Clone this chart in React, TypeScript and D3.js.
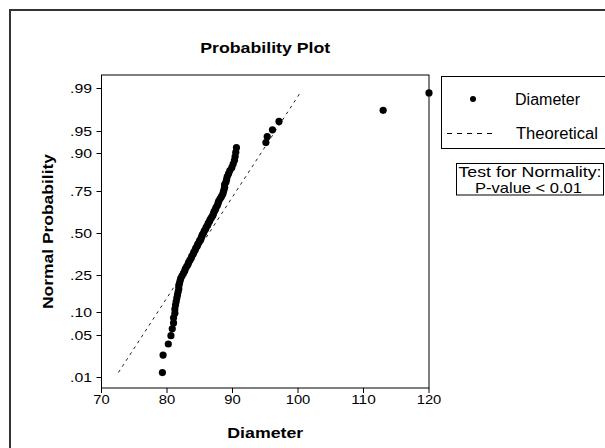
import React from 'react';
import * as d3 from 'd3';

// Sorted diameters (n = 81)
const diameters = [
  79.3, 79.4, 80.2, 80.6, 80.8, 81.0, 81.0, 81.2, 81.2, 81.3,
  81.4, 81.5, 81.6, 81.7, 81.8, 81.8, 81.9, 82.0, 82.1, 82.3,
  82.5, 82.7, 82.8, 83.0, 83.2, 83.3, 83.5, 83.7, 83.8, 84.0,
  84.1, 84.3, 84.4, 84.6, 84.7, 84.9, 85.0, 85.2, 85.3, 85.4,
  85.6, 85.7, 85.9, 86.0, 86.2, 86.3, 86.5, 86.6, 86.8, 87.0,
  87.1, 87.2, 87.4, 87.5, 87.7, 87.8, 87.9, 88.1, 88.3, 88.5,
  88.6, 88.7, 88.8, 88.8, 89.0, 89.1, 89.2, 89.4, 89.6, 89.9,
  90.1, 90.3, 90.4, 90.5, 90.6, 95.1, 95.3, 96.1, 97.1, 113.0,
  120.0,
];

const probTicks = [0.01, 0.05, 0.1, 0.25, 0.5, 0.75, 0.9, 0.95, 0.99];
const probTickLabels = ['.01', '.05', '.10', '.25', '.50', '.75', '.90', '.95', '.99'];
const xTicks = [70, 80, 90, 100, 110, 120];
const xDomain = [70, 120];
const zDomain = [-2.5, 2.54];

// Theoretical normal line
const theoMean = 86.45;
const theoSd = 6.16;
const theoProbRange = [0.0122, 0.9878];

const legendLabels = ['Diameter', 'Theoretical'];
const testLines = ['Test for Normality:', 'P-value < 0.01'];

function normInv(p: number): number {
  const a = [-3.969683028665376e1, 2.209460984245205e2, -2.759285104469687e2, 1.38357751867269e2, -3.066479806614716e1, 2.506628277459239];
  const b = [-5.447609879822406e1, 1.615858368580409e2, -1.556989798598866e2, 6.680131188771972e1, -1.328068155288572e1];
  const c = [-7.784894002430293e-3, -3.223964580411365e-1, -2.400758277161838, -2.549732539343734, 4.374664141464968, 2.938163982698783];
  const d = [7.784695709041462e-3, 3.224671290700398e-1, 2.445134137142996, 3.754408661907416];
  const plow = 0.02425;
  if (p < plow) {
    const q = Math.sqrt(-2 * Math.log(p));
    return (((((c[0] * q + c[1]) * q + c[2]) * q + c[3]) * q + c[4]) * q + c[5]) /
      ((((d[0] * q + d[1]) * q + d[2]) * q + d[3]) * q + 1);
  }
  if (p <= 1 - plow) {
    const q = p - 0.5;
    const r = q * q;
    return ((((((a[0] * r + a[1]) * r + a[2]) * r + a[3]) * r + a[4]) * r + a[5]) * q) /
      (((((b[0] * r + b[1]) * r + b[2]) * r + b[3]) * r + b[4]) * r + 1);
  }
  const q = Math.sqrt(-2 * Math.log(1 - p));
  return -(((((c[0] * q + c[1]) * q + c[2]) * q + c[3]) * q + c[4]) * q + c[5]) /
    ((((d[0] * q + d[1]) * q + d[2]) * q + d[3]) * q + 1);
}

const W = 605;
const H = 448;
const plot = { left: 101.5, right: 429, top: 75, bottom: 388 };
const FONT = 'Arial, "Liberation Sans", sans-serif';

export default function App() {
  const x = d3.scaleLinear().domain(xDomain).range([plot.left, plot.right]);
  const y = d3.scaleLinear().domain(zDomain).range([plot.bottom, plot.top]);
  const n = diameters.length;
  const pts = diameters.map((v, i) => ({ v, z: normInv((i + 1) / (n + 1)) }));

  const z0 = normInv(theoProbRange[0]);
  const z1 = normInv(theoProbRange[1]);
  const line = d3.line<[number, number]>().x(d => x(d[0])).y(d => y(d[1]));
  const theoPath = line([
    [theoMean + z0 * theoSd, z0],
    [theoMean + z1 * theoSd, z1],
  ]) as string;

  const cx = (plot.left + plot.right) / 2;
  const cy = (plot.top + plot.bottom) / 2;

  return (
    <svg width={W} height={H} style={{ position: 'absolute', left: 0, top: 0, background: '#fff' }} fontFamily={FONT}>
      <rect x={0} y={0} width={W} height={H} fill="#fff" />
      {/* outer frame */}
      <rect x={10} y={10} width={W + 20} height={H + 20} fill="none" stroke="#333" strokeWidth={2} />

      <text x={cx} y={53} textAnchor="middle" fontWeight="bold" fontSize={15} textLength={130} lengthAdjust="spacingAndGlyphs">Probability Plot</text>

      {/* plot frame */}
      <rect x={plot.left} y={plot.top} width={plot.right - plot.left} height={plot.bottom - plot.top} fill="none" stroke="#000" strokeWidth={1} />

      {/* y ticks */}
      {probTicks.map((p, i) => {
        const yy = Math.round(y(normInv(p))) + 0.5;
        return (
          <g key={'yt' + i}>
            <line x1={plot.left - 5} x2={plot.left} y1={yy} y2={yy} stroke="#000" />
            <text x={92} y={yy + 4.5} textAnchor="end" fontSize={13} textLength={22} lengthAdjust="spacingAndGlyphs">{probTickLabels[i]}</text>
          </g>
        );
      })}

      {/* x ticks */}
      {xTicks.map((t, i) => {
        const xx = x(t);
        const s = String(t);
        return (
          <g key={'xt' + i}>
            <line x1={xx} x2={xx} y1={plot.bottom} y2={plot.bottom + 5} stroke="#000" />
            <text x={xx} y={404} textAnchor="middle" fontSize={13} textLength={s.length * 8.2} lengthAdjust="spacingAndGlyphs">{s}</text>
          </g>
        );
      })}

      <text x={cx} y={438} textAnchor="middle" fontWeight="bold" fontSize={14} textLength={76} lengthAdjust="spacingAndGlyphs">Diameter</text>
      <text transform={`translate(53,${cy}) rotate(-90)`} textAnchor="middle" fontWeight="bold" fontSize={14} textLength={155} lengthAdjust="spacingAndGlyphs">Normal Probability</text>

      {/* theoretical line */}
      <path d={theoPath} fill="none" stroke="#222" strokeWidth={1} strokeDasharray="3,4" />

      {/* points */}
      {pts.map((d, i) => (
        <circle key={'p' + i} cx={x(d.v)} cy={y(d.z)} r={3.6} fill="#000" />
      ))}

      {/* legend */}
      <rect x={441.5} y={76.5} width={200} height={72} fill="#fff" stroke="#000" />
      <circle cx={473} cy={99} r={3} fill="#000" />
      <text x={515} y={104.5} fontSize={16} textLength={65} lengthAdjust="spacingAndGlyphs">{legendLabels[0]}</text>
      <line x1={447} x2={495} y1={133.5} y2={133.5} stroke="#000" strokeDasharray="5,5" />
      <text x={516} y={138.5} fontSize={16} textLength={82} lengthAdjust="spacingAndGlyphs">{legendLabels[1]}</text>

      {/* normality test box */}
      <rect x={456.5} y={163.5} width={147} height={31.5} fill="#fff" stroke="#000" />
      <text x={530} y={177} textAnchor="middle" fontSize={15} textLength={143} lengthAdjust="spacingAndGlyphs">{testLines[0]}</text>
      <text x={528.5} y={193} textAnchor="middle" fontSize={15} textLength={107} lengthAdjust="spacingAndGlyphs">{testLines[1]}</text>
    </svg>
  );
}
